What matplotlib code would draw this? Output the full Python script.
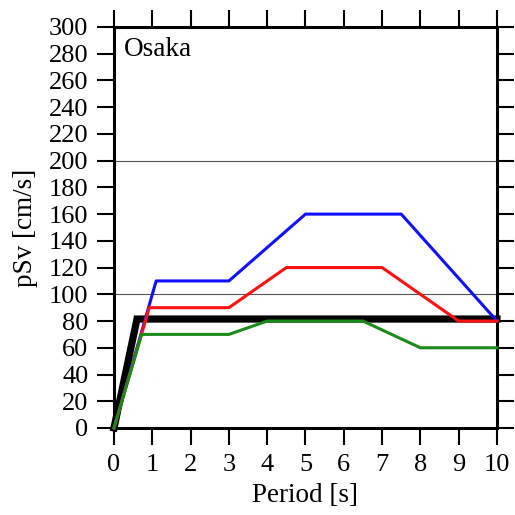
import matplotlib
matplotlib.use("Agg")
import matplotlib.pyplot as plt

plt.rcParams['font.family'] = ['Liberation Serif', 'DejaVu Serif']

# response spectra, Osaka
black_x = [0, 0.6, 10]
black_y = [0, 81.5, 81.5]

green_x = [0, 0.72, 3, 4, 6.5, 8, 10]
green_y = [0, 70, 70, 80, 80, 60, 60]

red_x = [0, 0.92, 3, 4.5, 7, 9, 10]
red_y = [0, 90, 90, 120, 120, 80, 80]

blue_x = [0, 1.1, 3, 5, 7.5, 10]
blue_y = [0, 110, 110, 160, 160, 80]

xticks = list(range(0, 11))
yticks = list(range(0, 301, 20))
grid_y = [100, 200]

fig = plt.figure(figsize=(5.15, 5.15), dpi=100)
ax = fig.add_axes([0.2214, 0.169, 0.7436, 0.7786])

for g in grid_y:
    ax.axhline(g, color='#555555', lw=0.8, zorder=1)

# thin lines share the same rise, so lower curves go on top
ax.plot(black_x, black_y, color='black', lw=5.2, solid_joinstyle='miter', zorder=2, clip_on=False)
ax.plot(blue_x, blue_y, color='#1010ff', lw=2.2, zorder=3, clip_on=False)
ax.plot(red_x, red_y, color='#ff1010', lw=2.2, zorder=4, clip_on=False)
ax.plot(green_x, green_y, color='#1a8a1a', lw=2.2, zorder=5, clip_on=False)

ax.set_xlim(0, 10)
ax.set_ylim(0, 300)
ax.set_xticks(xticks)
ax.set_yticks(yticks)
ax.tick_params(direction='out', length=12, width=1.5, labelsize=19,
               top=True, right=True, pad=6.5)
for s in ax.spines.values():
    s.set_linewidth(2.2)

ax.set_xlabel('Period [s]', fontsize=19.5, labelpad=5)
ax.set_ylabel('pSv [cm/s]', fontsize=19.5, labelpad=8)
ax.text(0.025, 0.975, 'Osaka', transform=ax.transAxes, ha='left', va='top', fontsize=19.5)

fig.savefig('out.png', dpi=100)
